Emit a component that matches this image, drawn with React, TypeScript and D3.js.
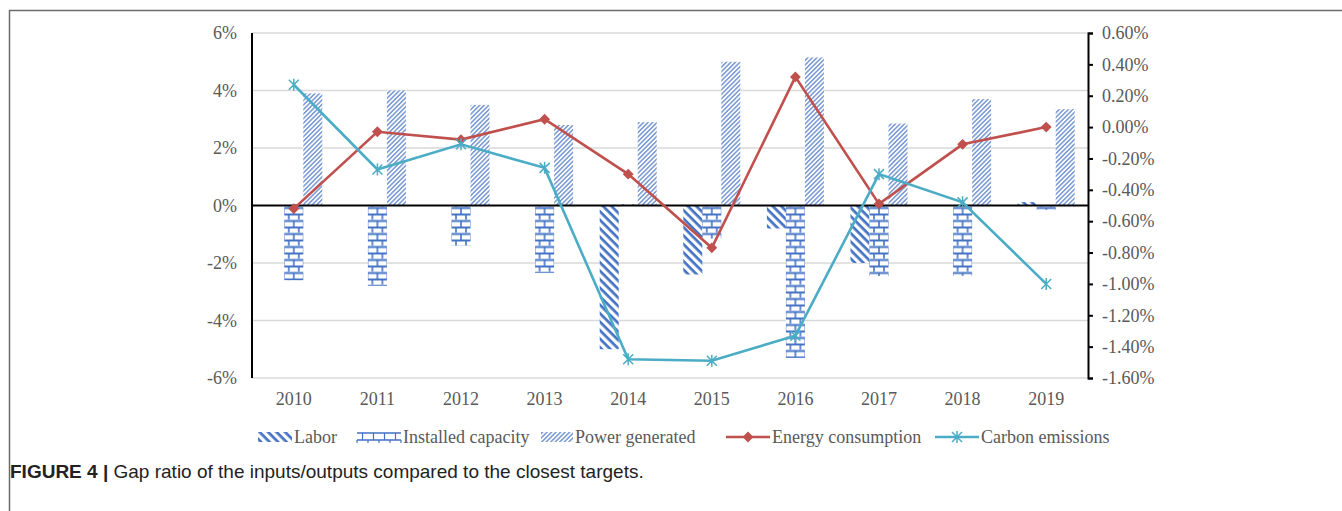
import { useEffect, useRef } from 'react';
import * as d3 from 'd3';

const years = ['2010', '2011', '2012', '2013', '2014', '2015', '2016', '2017', '2018', '2019'];
// bar series, left axis (%)
const labor = [0, 0, 0, 0, -5.0, -2.4, -0.8, -2.0, 0, 0.12];
const installedCapacity = [-2.6, -2.8, -1.4, -2.35, 0.05, -1.15, -5.3, -2.45, -2.45, -0.15];
const powerGenerated = [3.9, 4.0, 3.5, 2.8, 2.9, 5.0, 5.15, 2.85, 3.7, 3.35];
// line series, right axis (%)
const energyConsumption = [-0.52, -0.03, -0.08, 0.05, -0.3, -0.77, 0.32, -0.49, -0.11, 0.0];
const carbonEmissions = [0.27, -0.27, -0.11, -0.26, -1.48, -1.49, -1.33, -0.3, -0.48, -1.0];

const leftTicks = [6, 4, 2, 0, -2, -4, -6];
const rightTicks = [0.6, 0.4, 0.2, 0, -0.2, -0.4, -0.6, -0.8, -1.0, -1.2, -1.4, -1.6];
const legendLabels = ['Labor', 'Installed capacity', 'Power generated', 'Energy consumption', 'Carbon emissions'];

const BLUE = '#4472c4';
const RED = '#c0504d';
const TEAL = '#4bacc6';
const GREY = '#595959';
const SERIF = '"Liberation Serif", "Times New Roman", serif';
const FS = 18;

export default function App() {
  const svgRef = useRef<SVGSVGElement>(null);
  const width = 1342;
  const height = 511;

  useEffect(() => {
    const svg = d3.select(svgRef.current);
    svg.selectAll('*').remove();

    const left = 252, right = 1088, top = 33, bottom = 378;

    const x = d3.scaleBand<string>().domain(years).range([left, right]).paddingInner(0.318).paddingOuter(0.159);
    const x1 = d3.scaleBand<string>().domain(['labor', 'cap', 'power']).range([0, x.bandwidth()]);
    const yL = d3.scaleLinear().domain([-6, 6]).range([bottom, top]);
    const yR = d3.scaleLinear().domain([-1.6, 0.6]).range([bottom, top]);

    const defs = svg.append('defs');

    // wide stripes \\\ for labor
    const pl = defs.append('pattern').attr('id', 'labor').attr('patternUnits', 'userSpaceOnUse')
      .attr('width', 6).attr('height', 6).attr('patternTransform', 'rotate(45)');
    pl.append('rect').attr('width', 6).attr('height', 6).attr('fill', '#fff');
    pl.append('rect').attr('y', 0).attr('width', 6).attr('height', 2.7).attr('fill', BLUE);

    // fine /// for power generated
    const pp = defs.append('pattern').attr('id', 'power').attr('patternUnits', 'userSpaceOnUse')
      .attr('width', 4).attr('height', 3.2).attr('patternTransform', 'rotate(-45)');
    pp.append('rect').attr('width', 4).attr('height', 3.2).attr('fill', '#fff');
    pp.append('line').attr('x1', 0).attr('x2', 4).attr('y1', 0.8).attr('y2', 0.8)
      .attr('stroke', BLUE).attr('stroke-width', 1.1);

    // brick pattern, one per bar so it is centred
    years.forEach((yr, i) => {
      const cx = (x(yr) ?? 0) + (x1('cap') ?? 0) + x1.bandwidth() / 2;
      const pb = defs.append('pattern').attr('id', `brick-${i}`).attr('patternUnits', 'userSpaceOnUse')
        .attr('x', cx - 5).attr('y', yL(0) + 1).attr('width', 10).attr('height', 13);
      pb.append('rect').attr('width', 10).attr('height', 13).attr('fill', '#fff');
      pb.append('path')
        .attr('d', 'M0,1.5 H10 M0,8 H10')
        .attr('stroke', BLUE).attr('stroke-width', 1.9);
      pb.append('path')
        .attr('d', 'M5,1.5 V8 M0,8 V14.5 M10,8 V14.5')
        .attr('stroke', BLUE).attr('stroke-width', 1.6);
    });

    // gridlines
    svg.append('g').selectAll('line').data(leftTicks.filter(d => d !== 0)).enter().append('line')
      .attr('x1', left).attr('x2', right)
      .attr('y1', d => yL(d)).attr('y2', d => yL(d))
      .attr('stroke', '#d9d9d9').attr('stroke-width', 1.5);

    const barY = (v: number) => Math.min(yL(v), yL(0));
    const barH = (v: number) => Math.abs(yL(v) - yL(0));

    const series: [string, number[]][] = [['labor', labor], ['cap', installedCapacity], ['power', powerGenerated]];
    series.forEach(([key, vals]) => {
      svg.append('g').selectAll('rect').data(vals).enter().append('rect')
        .attr('x', (d, i) => (x(years[i]) ?? 0) + (x1(key) ?? 0))
        .attr('y', d => barY(d))
        .attr('width', x1.bandwidth())
        .attr('height', d => barH(d))
        .attr('fill', (d, i) => key === 'cap' ? `url(#brick-${i})` : `url(#${key})`);
    });

    // zero line
    svg.append('line').attr('x1', left).attr('x2', right).attr('y1', yL(0)).attr('y2', yL(0))
      .attr('stroke', '#000').attr('stroke-width', 2);

    // left axis line + labels
    svg.append('line').attr('x1', left).attr('x2', left).attr('y1', top).attr('y2', bottom)
      .attr('stroke', '#000').attr('stroke-width', 2);
    svg.append('g').selectAll('text').data(leftTicks).enter().append('text')
      .attr('x', left - 15).attr('y', d => yL(d)).attr('dy', '0.35em')
      .attr('text-anchor', 'end').attr('font-family', SERIF).attr('font-size', FS).attr('fill', GREY)
      .text(d => `${d}%`);

    // right axis
    const rAxis = d3.axisRight(yR).tickValues(rightTicks).tickSizeInner(5).tickSizeOuter(5).tickPadding(9)
      .tickFormat(d => `${(+d).toFixed(2)}%`);
    const ra = svg.append('g').attr('transform', `translate(${right},0)`).call(rAxis);
    ra.select('.domain').attr('stroke', '#000').attr('stroke-width', 2);
    ra.selectAll('.tick line').attr('stroke', '#000').attr('stroke-width', 2);
    ra.selectAll('.tick text').attr('font-family', SERIF).attr('font-size', FS).attr('fill', GREY);

    // x labels
    svg.append('g').selectAll('text').data(years).enter().append('text')
      .attr('x', d => (x(d) ?? 0) + x.bandwidth() / 2).attr('y', 405)
      .attr('text-anchor', 'middle').attr('font-family', SERIF).attr('font-size', FS).attr('fill', GREY)
      .text(d => d);

    // lines
    const cx = (i: number) => (x(years[i]) ?? 0) + x.bandwidth() / 2;
    const line = d3.line<number>().x((d, i) => cx(i)).y(d => yR(d));

    svg.append('path').datum(energyConsumption).attr('d', line).attr('fill', 'none')
      .attr('stroke', RED).attr('stroke-width', 2.6);
    svg.append('g').selectAll('path').data(energyConsumption).enter().append('path')
      .attr('transform', (d, i) => `translate(${cx(i)},${yR(d)})`)
      .attr('d', d3.symbol(d3.symbolDiamond2, 75)).attr('fill', RED);

    svg.append('path').datum(carbonEmissions).attr('d', line).attr('fill', 'none')
      .attr('stroke', TEAL).attr('stroke-width', 2.6);
    const star = 'M-5,-5L5,5M-5,5L5,-5M0,-6V6';
    svg.append('g').selectAll('path').data(carbonEmissions).enter().append('path')
      .attr('transform', (d, i) => `translate(${cx(i)},${yR(d)})`)
      .attr('d', star).attr('fill', 'none').attr('stroke', TEAL).attr('stroke-width', 1.5);

    // legend
    const ly = 437;
    const lx = [258, 357, 541, 726, 935];
    const lw = [34, 44, 32, 44, 44];
    const lg = svg.append('g');
    legendLabels.forEach((lab, i) => {
      const g = lg.append('g').attr('transform', `translate(${lx[i]},${ly})`);
      if (i === 0) {
        g.append('rect').attr('x', 0).attr('y', -5).attr('width', lw[i]).attr('height', 10).attr('fill', 'url(#labor)');
      } else if (i === 1) {
        g.append('path').attr('d', `M0,-4 H${lw[i]} M0,3 H${lw[i]}`).attr('stroke', BLUE).attr('stroke-width', 1.3);
        for (let k = 0; k < lw[i]; k += 11) {
          g.append('line').attr('x1', k + 5.5).attr('x2', k + 5.5).attr('y1', -4).attr('y2', 3).attr('stroke', BLUE).attr('stroke-width', 1.2);
        }
        for (let k = 0; k <= lw[i]; k += 11) {
          g.append('line').attr('x1', k).attr('x2', k).attr('y1', 3).attr('y2', 6).attr('stroke', BLUE).attr('stroke-width', 1.2);
        }
      } else if (i === 2) {
        g.append('rect').attr('x', 0).attr('y', -5).attr('width', lw[i]).attr('height', 10).attr('fill', 'url(#power)');
      } else {
        const col = i === 3 ? RED : TEAL;
        g.append('line').attr('x1', 0).attr('x2', lw[i]).attr('y1', 0).attr('y2', 0).attr('stroke', col).attr('stroke-width', 2.6);
        if (i === 3) {
          g.append('path').attr('transform', `translate(${lw[i] / 2},0)`).attr('d', d3.symbol(d3.symbolDiamond2, 75)).attr('fill', col);
        } else {
          g.append('path').attr('transform', `translate(${lw[i] / 2},0)`).attr('d', star).attr('stroke', col).attr('stroke-width', 1.5);
        }
      }
      g.append('text').attr('x', lw[i] + 2).attr('y', 0).attr('dy', '0.35em')
        .attr('font-family', SERIF).attr('font-size', FS).attr('fill', GREY).text(lab);
    });

    // frame
    svg.append('path').attr('d', `M9.5,${height} V10.5 H${width}`).attr('fill', 'none')
      .attr('stroke', '#6b6b6b').attr('stroke-width', 1.5);

    // caption
    const cap = svg.append('text').attr('x', 10).attr('y', 478)
      .attr('font-family', '"Liberation Sans", Arial, sans-serif').attr('font-size', 19).attr('fill', '#222');
    cap.append('tspan').attr('font-weight', 'bold').text('FIGURE 4 |');
    cap.append('tspan').text(' Gap ratio of the inputs/outputs compared to the closest targets.');
  }, []);

  return (
    <svg ref={svgRef} width={width} height={height}
      style={{ position: 'absolute', top: 0, left: 0, background: '#fff' }} />
  );
}
